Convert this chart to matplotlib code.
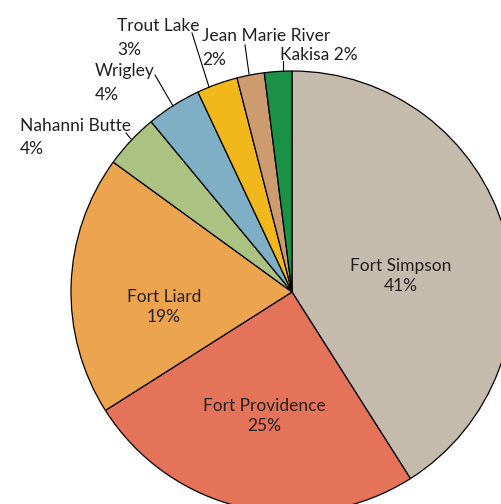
import matplotlib
matplotlib.use('Agg')
import matplotlib.pyplot as plt

# Share of population by community
communities = ["Fort Simpson", "Fort Providence", "Fort Liard", "Nahanni Butte",
               "Wrigley", "Trout Lake", "Jean Marie River", "Kakisa"]
shares = [41, 25, 19, 4, 4, 3, 2, 2]
colors = ["#c5bbad", "#e4735a", "#eca44f", "#abc283",
          "#7eafc4", "#f2b81b", "#cc9c6e", "#1b9148"]

W, H = 502, 504
plt.rcParams['font.family'] = ['Lato', 'DejaVu Sans']
fig = plt.figure(figsize=(W / 100, H / 100), dpi=100)
ax = fig.add_axes([0, 0, 1, 1])

cx, cy, r = 292, 292, 221
# y axis is inverted, so counterclockwise in data = clockwise on screen
ax.pie(shares, center=(cx, cy), radius=r, startangle=-90, counterclock=True,
       colors=colors, wedgeprops=dict(edgecolor='black', linewidth=0.9), frame=True)
ax.set_xlim(0, W)
ax.set_ylim(H, 0)
ax.set_aspect('equal')
ax.axis('off')

txt = '#231f20'
fs = 12.5
ls = 1.38
gap = 23.5  # distance between the two lines of an outside label

# labels inside the big slices
inner = {"Fort Simpson": (401, 276), "Fort Providence": (264, 416), "Fort Liard": (164, 307)}
for i, name in enumerate(communities[:3]):
    x, y = inner[name]
    ax.text(x, y, f"{name}\n{shares[i]}%", ha='center', va='center',
            fontsize=fs, color=txt, linespacing=ls)

# outside labels with leader lines
outer = {
    "Nahanni Butte": ((20, 118), (126, 133), (131, 139)),
    "Wrigley": ((95, 63), (155, 75), (173, 106)),
    "Trout Lake": ((117, 18), (192, 33), (209, 87)),
    "Jean Marie River": ((202, 28), (245, 45), (249, 74)),
    "Kakisa": ((280, 47), (283, 61), (283, 71)),
}
for i, name in enumerate(communities):
    if name not in outer:
        continue
    (tx, ty), p0, p1 = outer[name]
    if name == "Kakisa":
        ax.text(tx, ty, f"{name} {shares[i]}%", ha='left', va='top', fontsize=fs, color=txt)
    else:
        ax.text(tx, ty, name, ha='left', va='top', fontsize=fs, color=txt)
        ax.text(tx, ty + gap, f"{shares[i]}%", ha='left', va='top', fontsize=fs, color=txt)
    ax.plot([p0[0], p1[0]], [p0[1], p1[1]], color='black', linewidth=0.8)

plt.savefig('out.png', dpi=100)
plt.close()
